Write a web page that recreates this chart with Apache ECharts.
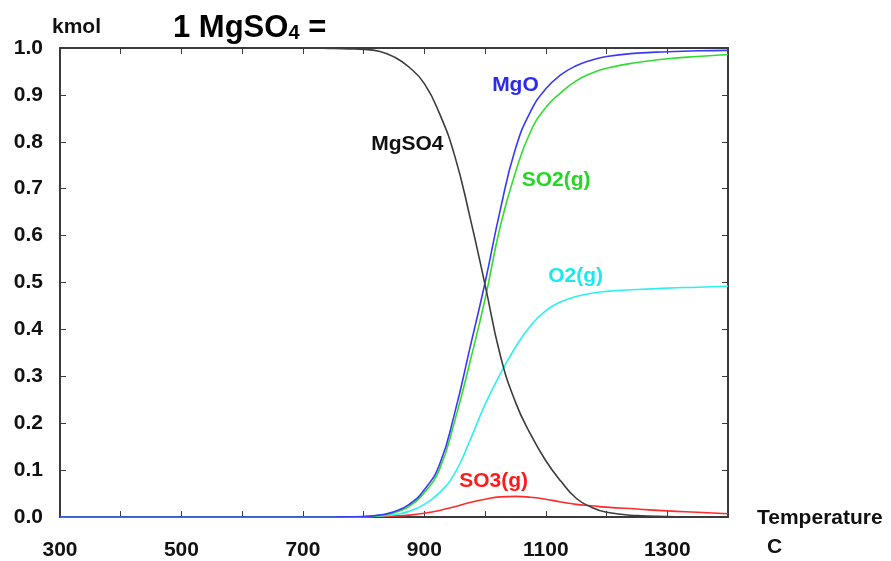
<!DOCTYPE html>
<html>
<head>
<meta charset="utf-8">
<title>MgSO4 decomposition</title>
<script src="https://cdn.jsdelivr.net/npm/echarts@6/dist/echarts.min.js"></script>
<style>
  html, body { margin: 0; padding: 0; background: #fff; }
  #chart { width: 891px; height: 561px; }
</style>
</head>
<body>
<div id="chart"></div>
<script>
// Temperature grid (C)
var temperature = [300, 700, 750, 775, 800, 825, 850, 875, 900, 925, 950, 975, 1000,
  1025, 1050, 1075, 1100, 1125, 1150, 1175, 1200, 1250, 1300, 1350, 1400];

// Equilibrium amounts (kmol) per 1 kmol MgSO4
var mgso4 = [1.0, 1.0, 0.999, 0.998, 0.997, 0.993, 0.981, 0.959, 0.924, 0.86, 0.77, 0.64, 0.495,
  0.345, 0.245, 0.176, 0.12, 0.076, 0.04, 0.021, 0.01, 0.003, 0.001, 0.0, 0.0];
var mgo = [0, 0, 0, 0.0005, 0.001, 0.004, 0.011, 0.027, 0.058, 0.112, 0.222, 0.36, 0.5,
  0.655, 0.785, 0.865, 0.913, 0.943, 0.962, 0.974, 0.982, 0.989, 0.992, 0.994, 0.995];
var so2 = [0, 0, 0, 0.0004, 0.001, 0.003, 0.009, 0.023, 0.052, 0.102, 0.205, 0.33, 0.465,
  0.62, 0.735, 0.822, 0.873, 0.905, 0.93, 0.946, 0.957, 0.969, 0.977, 0.982, 0.986];
var o2 = [0, 0, 0, 0.0002, 0.0005, 0.002, 0.005, 0.012, 0.027, 0.052, 0.093, 0.163, 0.24,
  0.305, 0.362, 0.408, 0.44, 0.459, 0.47, 0.477, 0.481, 0.485, 0.488, 0.49, 0.492];
var so3 = [0, 0, 0, 0, 0.0005, 0.001, 0.002, 0.004, 0.008, 0.014, 0.022, 0.031, 0.038,
  0.043, 0.044, 0.042, 0.038, 0.032, 0.027, 0.024, 0.021, 0.017, 0.013, 0.01, 0.007];

// Curve labels: [name, temperature, amount]
var curveLabels = {
  MgSO4: ['MgSO4', 872, 0.794],
  MgO: ['MgO', 1050, 0.921],
  SO2: ['SO2(g)', 1117, 0.719],
  O2: ['O2(g)', 1149, 0.513],
  SO3: ['SO3(g)', 1014, 0.077]
};

var FONT = '"Liberation Sans", Arial, sans-serif';

function pairs(ys) {
  return temperature.map(function (t, i) { return [t, ys[i]]; });
}

function makeSeries(key, ys, color, textColor, z) {
  var lab = curveLabels[key];
  return {
    name: lab[0],
    type: 'line',
    data: pairs(ys),
    smooth: 0.5,
    showSymbol: false,
    symbol: 'none',
    z: z,
    lineStyle: { color: color, width: 1.6 },
    itemStyle: { color: color },
    markPoint: {
      symbol: 'circle',
      symbolSize: 0,
      silent: true,
      data: [{ coord: [lab[1], lab[2]], value: lab[0] }],
      label: {
        show: true,
        position: 'inside',
        formatter: lab[0],
        color: textColor,
        fontFamily: FONT,
        fontWeight: 'bold',
        fontSize: 21
      }
    }
  };
}

var axisLineStyle = { color: '#3a3a3a', width: 2 };
var tickStyle = { color: '#3a3a3a', width: 1 };

var chart = echarts.init(document.getElementById('chart'), null, { renderer: 'canvas' });
chart.setOption({
  animation: false,
  backgroundColor: '#ffffff',
  title: {
    text: '{b|1 MgSO}{s|4}{b| =}',
    left: 168,
    top: 8,
    textStyle: {
      rich: {
        b: { fontFamily: FONT, fontWeight: 'bold', fontSize: 31, color: '#000' },
        s: { fontFamily: FONT, fontWeight: 'bold', fontSize: 20, color: '#000', padding: [10, 0, 0, 0] }
      }
    }
  },
  grid: { left: 60, right: 163, top: 48, bottom: 43, containLabel: false },
  xAxis: [{
    type: 'value',
    position: 'bottom',
    min: 300, max: 1400, interval: 100,
    axisLine: { show: true, onZero: false, lineStyle: axisLineStyle },
    axisTick: { show: true, inside: true, length: 6, lineStyle: tickStyle },
    splitLine: { show: false },
    axisLabel: {
      margin: 23,
      fontFamily: FONT, fontWeight: 'bold', fontSize: 21, color: '#111',
      formatter: function (v) { return v % 200 === 100 ? String(v) : ''; }
    }
  }, {
    type: 'value',
    position: 'top',
    min: 300, max: 1400, interval: 100,
    axisLine: { show: true, onZero: false, lineStyle: axisLineStyle },
    axisTick: { show: true, inside: true, length: 6, lineStyle: tickStyle },
    splitLine: { show: false },
    axisLabel: { show: false }
  }],
  yAxis: [{
    type: 'value',
    position: 'left',
    min: 0, max: 1, interval: 0.1,
    name: 'kmol',
    nameLocation: 'end',
    nameGap: 10,
    nameTextStyle: { fontFamily: FONT, fontWeight: 'bold', fontSize: 21, color: '#111', align: 'left', padding: [0, 0, 0, -8] },
    axisLine: { show: true, onZero: false, lineStyle: axisLineStyle },
    axisTick: { show: true, inside: true, length: 6, lineStyle: tickStyle },
    splitLine: { show: false },
    axisLabel: {
      margin: 17,
      fontFamily: FONT, fontWeight: 'bold', fontSize: 21, color: '#111',
      formatter: function (v) { return v.toFixed(1); }
    }
  }, {
    type: 'value',
    position: 'right',
    min: 0, max: 1, interval: 0.1,
    axisLine: { show: true, onZero: false, lineStyle: axisLineStyle },
    axisTick: { show: true, inside: true, length: 6, lineStyle: tickStyle },
    splitLine: { show: false },
    axisLabel: { show: false }
  }],
  graphic: [{
    type: 'text',
    left: 757, top: 508,
    style: { text: 'Temperature', fontFamily: FONT, fontWeight: 'bold', fontSize: 21, fill: '#111' }
  }, {
    type: 'text',
    left: 767, top: 537,
    style: { text: 'C', fontFamily: FONT, fontWeight: 'bold', fontSize: 21, fill: '#111' }
  }],
  series: [
    makeSeries('SO3', so3, '#ff2a2a', '#ff1a1a', 2),
    makeSeries('O2', o2, '#2ef0f0', '#1ee8e8', 3),
    makeSeries('SO2', so2, '#30dd30', '#22d822', 4),
    makeSeries('MgO', mgo, '#3a3af5', '#2a2af0', 5),
    makeSeries('MgSO4', mgso4, '#3c3c3c', '#111111', 6)
  ]
});
</script>
</body>
</html>
